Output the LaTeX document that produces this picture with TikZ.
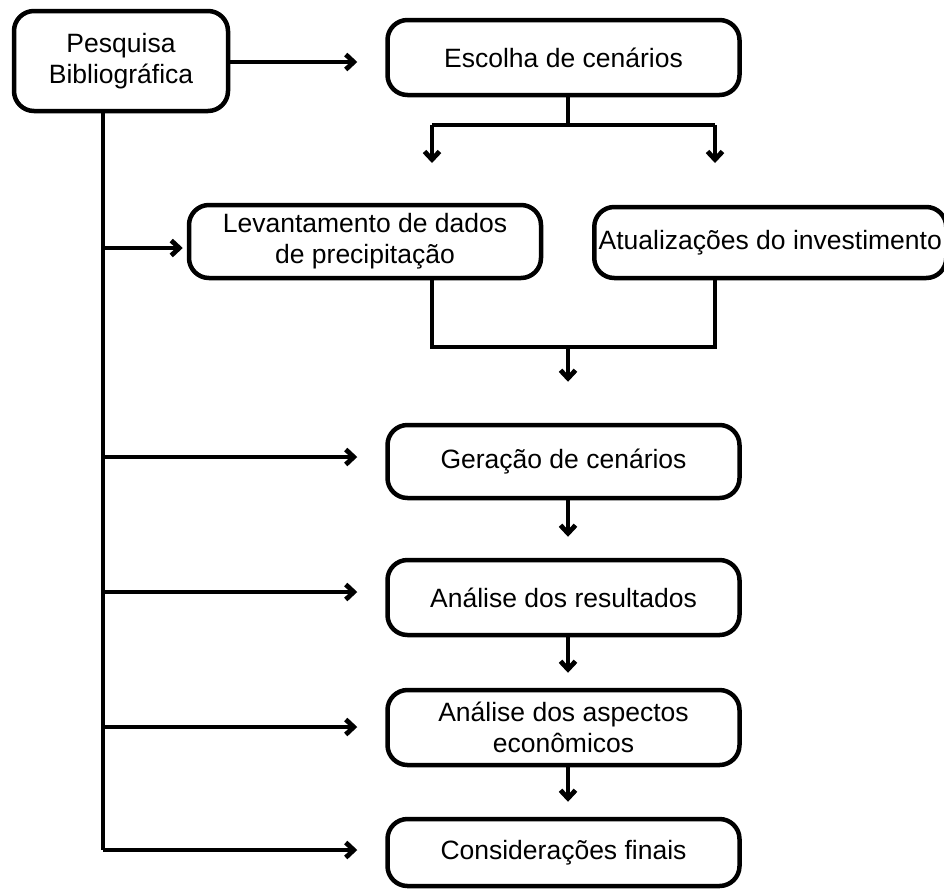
\documentclass[tikz,border=0pt]{standalone}
\usepackage{fontspec}
\setmainfont{Liberation Sans}
\usetikzlibrary{arrows.meta}
\begin{document}
\begin{tikzpicture}[x=1pt, y=-1pt,
        box/.style={draw, line width=4.5pt, rounded corners=20pt, align=center, inner sep=2pt,
            font=\fontsize{26.5}{31}\selectfont},
        wire/.style={line width=4.8pt},
        arr/.style={wire, -{Straight Barb[length=8pt, width=15pt]}}]
        \useasboundingbox (0,0) rectangle (944,892);
        \clip (0,0) rectangle (944,892);

        \node[box, minimum width=214pt, minimum height=100pt] (pesq) at (121,61) {Pesquisa\\Bibliográfica};
        \node[box, minimum width=352pt, minimum height=75pt] (esc) at (563.5,57.5) {Escolha de cenários};
        \node[box, minimum width=352pt, minimum height=73pt] (lev) at (365,241.5) {Levantamento de dados\\de precipitação};
        \node[box, minimum width=352pt, minimum height=71pt, anchor=west] (atu) at (592,242.5) {Atualizações do investimento};
        \node[box, minimum width=352pt, minimum height=73pt] (ger) at (563.5,461.5) {Geração de cenários};
        \node[box, minimum width=352pt, minimum height=75pt] (res) at (563.5,597.5) {Análise dos resultados};
        \node[box, minimum width=352pt, minimum height=75pt] (asp) at (563.5,727.5) {Análise dos aspectos\\econômicos};
        \node[box, minimum width=352pt, minimum height=67pt] (cons) at (563.5,852.5) {Considerações finais};

        \coordinate (t0) at (103,113);
        \coordinate (t1) at (103,850);
        \coordinate (sl) at (432,125);
        \coordinate (sr) at (715,125);
        \coordinate (slt) at (432,163);
        \coordinate (srt) at (715,163);
        \coordinate (jn) at (568,347);

        \draw[arr, shorten >=28pt] (pesq.east |- 0,62) -- (esc.west |- 0,62);
        \draw[wire] (esc.south -| jn) -- (jn |- sl);
        \draw[wire] (sl) -- (sr);
        \draw[arr] (sl) -- (slt);
        \draw[arr] (sr) -- (srt);

        \draw[wire] (lev.south -| sl) |- (jn) -| (atu.south -| sr);
        \draw[arr, shorten >=41pt] (jn) -- (ger.north -| jn);
        \draw[arr, shorten >=21pt] (ger.south -| jn) -- (res.north -| jn);
        \draw[arr, shorten >=15pt] (res.south -| jn) -- (asp.north -| jn);
        \draw[arr, shorten >=15pt] (asp.south -| jn) -- (cons.north -| jn);

        \draw[wire] (t0) -- (t1);
        \draw[arr, shorten >=4pt] (t0 |- 0,248) -- (lev.west |- 0,248);
        \draw[arr, shorten >=28pt] (t0 |- 0,457) -- (ger.west |- 0,457);
        \draw[arr, shorten >=28pt] (t0 |- 0,592) -- (res.west |- 0,592);
        \draw[arr, shorten >=28pt] (t0 |- 0,727) -- (asp.west |- 0,727);
        \draw[arr, shorten >=28pt] (t1) -- (cons.west |- t1);
\end{tikzpicture}
\end{document}
